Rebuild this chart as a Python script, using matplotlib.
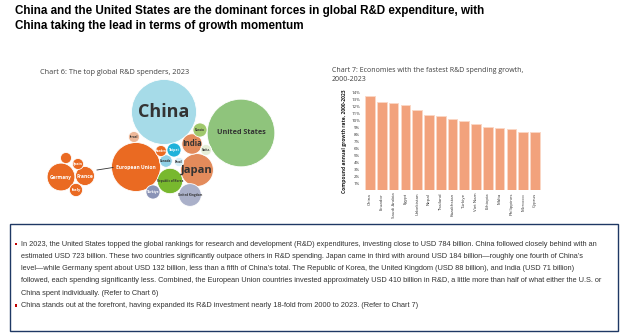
import matplotlib.pyplot as plt
from matplotlib.patches import Circle, Rectangle
from matplotlib import font_manager
import numpy as np

# ---- data ----
# Chart 6: R&D spending 2023, USD billion (bubble area ~ value)
spend_names = ['China', 'United States', 'Japan', 'India', 'European Union',
               'Republic of Korea', 'United Kingdom', 'Türkiye', 'Canada',
               'Brazil', 'Taipei', 'Sweden', 'Israel', 'Russia', 'Switz.',
               'Germany', 'France', 'Italy', 'Spain', '']
spend_values = [723, 784, 184, 71, 410, 110, 88, 34, 27, 15, 34, 21, 21, 34, 21,
                132, 62, 30, 21, 21]

# Chart 7: compound annual growth rate 2000-2023 (%)
growth_names = ['China', 'Ecuador', 'Saudi Arabia', 'Egypt', 'Uzbekistan', 'Nepal',
                'Thailand', 'Kazakhstan', 'Türkiye', 'Viet Nam', 'Ethiopia', 'Malta',
                'Philippines', 'Morocco', 'Cyprus']
growth_values = [13.4, 12.6, 12.4, 12.1, 11.5, 10.7, 10.6, 10.1, 9.8, 9.4, 9.0, 8.8,
                 8.7, 8.3, 8.3]
growth_ticks = list(range(1, 15))

# ---- layout / styling (pixel coords, y down) ----
bubble_xy = [(164, 112), (241, 133), (197, 170), (192, 144), (136, 167),
             (170, 181), (190, 195), (153, 192), (166, 161), (179, 162),
             (174, 150), (161, 151), (134, 137), (200, 130), (206, 150),
             (61, 177), (85, 176), (76, 190), (78, 164), (66, 158)]
bubble_colors = ['#a6dbe8', '#8fc47c', '#e38b5b', '#e38b5b', '#ea6a22',
                 '#78b82e', '#aab0c9', '#8a93b6', '#8fd0e6', '#d5eef7',
                 '#1fb2da', '#ea6a22', '#edb899', '#a0c96c', '#e6efd8',
                 '#ea6a22', '#ea6a22', '#ea6a22', '#ea6a22', '#ea6a22']
label_colors = ['#333333', '#333333', '#333333', '#333333', 'white',
                '#333333', '#333333', 'white', '#333333', '#333333',
                'white', 'white', '#333333', '#333333', '#333333',
                'white', 'white', 'white', 'white', 'white']
label_sizes = [13, 5.2, 8, 5.6, 3.6, 2.2, 2.2, 2.4, 2.2, 2.0, 2.6, 2.0, 2.2, 2.2, 2.2,
               3.4, 3.6, 3.0, 2.6, 2.0]
k = 32.5 / np.sqrt(723)   # px radius per sqrt(USD bn)

fams = {f.name for f in font_manager.fontManager.ttflist}
narrow = 'Liberation Sans Narrow' if 'Liberation Sans Narrow' in fams else 'Liberation Sans'
title_fs = 10.2 if narrow == 'Liberation Sans Narrow' else 8.4
body_fs = 5.4 if narrow == 'Liberation Sans Narrow' else 5.3
ui = 'Open Sans'

fig = plt.figure(figsize=(6.24, 3.34), dpi=100)
ov = fig.add_axes([0, 0, 1, 1])
ov.set_xlim(0, 624)
ov.set_ylim(334, 0)
ov.axis('off')

# headline
ov.text(15, 11, 'China and the United States are the dominant forces in global R&D expenditure, with',
        family=narrow, fontweight='bold', fontsize=title_fs, va='center', ha='left', color='black')
ov.text(15, 26, 'China taking the lead in terms of growth momentum',
        family=narrow, fontweight='bold', fontsize=title_fs, va='center', ha='left', color='black')

# Chart 6 bubbles
ov.text(40, 73, 'Chart 6: The top global R&D spenders, 2023', family=ui, fontsize=5.3,
        color='#404040', va='center')
for name, val, (x, y), c, lc, fs in zip(spend_names, spend_values, bubble_xy,
                                         bubble_colors, label_colors, label_sizes):
    ov.add_patch(Circle((x, y), k * np.sqrt(val), facecolor=c, edgecolor='white', lw=0.6))
    if name:
        ov.text(x, y, name, ha='center', va='center', fontsize=fs, color=lc, family=ui,
                fontweight='bold')
ov.plot([97, 113], [170, 167.5], color='#333333', lw=0.6)

# Chart 7 bars
ov.text(332, 71, 'Chart 7: Economies with the fastest R&D spending growth,', family=ui,
        fontsize=5.0, color='#404040', va='center')
ov.text(332, 79.5, '2000-2023', family=ui, fontsize=5.0, color='#404040', va='center')

ax = fig.add_axes([363 / 624, 1 - 190 / 334, 179 / 624, 98 / 334])
ax.patch.set_alpha(0)
xpos = np.arange(len(growth_values))
ax.bar(xpos, growth_values, width=0.82, color='#f2a27c', edgecolor='#fbd7c5', linewidth=0.7)
ax.set_xlim(-0.6, len(growth_values) - 0.4)
ax.set_ylim(0, 14)
ax.set_yticks(growth_ticks)
ax.set_yticklabels([f'{t}%' for t in growth_ticks], fontsize=3.2, color='#333333', family=ui)
ax.set_xticks(xpos)
ax.set_xticklabels(growth_names, rotation=90, fontsize=3.2, color='#333333', family=ui)
ax.tick_params(length=0, pad=2)
for s in ax.spines.values():
    s.set_visible(False)
ax.set_ylabel('Compound annual growth rate, 2000-2023', fontsize=3.6, fontweight='bold',
              color='#222222', family=ui, labelpad=3)

# text box
ov.add_patch(Rectangle((10, 224), 608, 107, facecolor='white', edgecolor='#1f3864', lw=1.0))
lines = [
    'In 2023, the United States topped the global rankings for research and development (R&D) expenditures, investing close to USD 784 billion. China followed closely behind with an',
    'estimated USD 723 billion. These two countries significantly outpace others in R&D spending. Japan came in third with around USD 184 billion\u2014roughly one fourth of China\u2019s',
    'level\u2014while Germany spent about USD 132 billion, less than a fifth of China\u2019s total. The Republic of Korea, the United Kingdom (USD 88 billion), and India (USD 71 billion)',
    'followed, each spending significantly less. Combined, the European Union countries invested approximately USD 410 billion in R&D, a little more than half of what either the U.S. or',
    'China spent individually. (Refer to Chart 6)',
    'China stands out at the forefront, having expanded its R&D investment nearly 18-fold from 2000 to 2023. (Refer to Chart 7)',
]
line_y = [244, 256.3, 268.6, 280.9, 293.2, 305.5]
for i, (t, y) in enumerate(zip(lines, line_y)):
    ov.text(21, y, t, family=narrow, fontsize=body_fs, color='#333333', va='center')
    if i in (0, 5):
        ov.add_patch(Rectangle((14.5, y - 1.2), 2.4, 2.4, facecolor='#c00000', edgecolor='none'))

fig.savefig('out.png', dpi=100)
